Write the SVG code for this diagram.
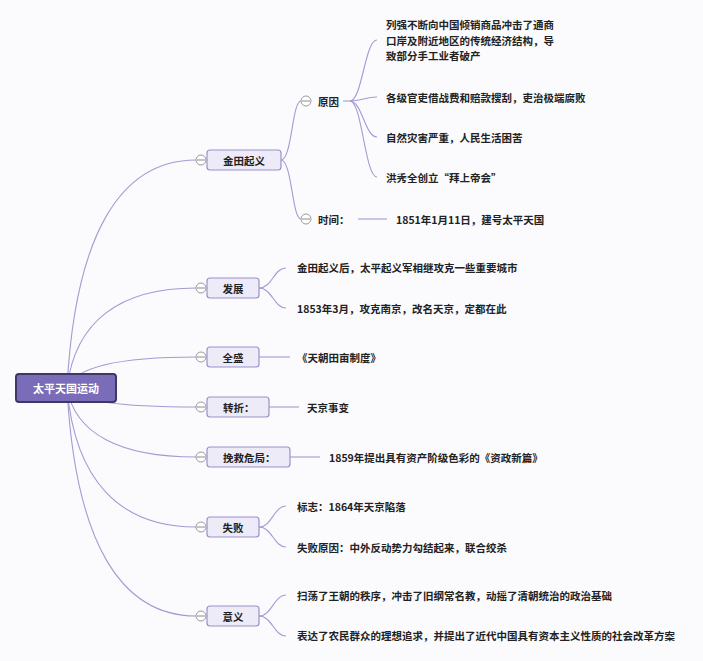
<svg xmlns="http://www.w3.org/2000/svg" width="703" height="661" viewBox="0 0 703 661">
<defs>
<style>
.bg{fill:#fbfbfd}
.ln{fill:none;stroke:#a29bd3;stroke-width:1.1}
.n1 rect{fill:#ecebf7;stroke:#9a91cc;stroke-width:1.2}
.t{font-family:"Noto Sans CJK SC","Liberation Sans",sans-serif;font-size:10.5px;fill:#222;font-weight:bold;dominant-baseline:central}
.tc{text-anchor:middle}
.cc circle{fill:#fff;stroke:#9a9a9a;stroke-width:1}
.cc line{stroke:#8a8a8a;stroke-width:1}
</style>
</defs>
<rect class="bg" x="0" y="0" width="703" height="661"/>
<g id="connectors">
<path class="ln" d="M67,388 C75,235 120,160 196,160"/>
<path class="ln" d="M67,388 C75,321 120,288 196,288"/>
<path class="ln" d="M67,388 C75,367 120,357 196,357"/>
<path class="ln" d="M67,388 C75,401 120,407 196,407"/>
<path class="ln" d="M67,388 C75,434 120,457 196,457"/>
<path class="ln" d="M67,388 C75,481 120,527 196,527"/>
<path class="ln" d="M67,388 C75,541 120,616 196,616"/>
<path class="ln" d="M281,160 C292,160 292,101 301,101"/>
<path class="ln" d="M281,160 C292,160 292,219 301,219"/>
<path class="ln" d="M343,101 L350,101"/>
<path class="ln" d="M350,101 C362,101 365,40 377,40"/>
<path class="ln" d="M350,101 C362,101 365,97 377,97"/>
<path class="ln" d="M350,101 C362,101 365,137 377,137"/>
<path class="ln" d="M350,101 C362,101 365,177 377,177"/>
<path class="ln" d="M358,219 L387,219"/>
<path class="ln" d="M259,288 C272,288 274,268 286,268"/>
<path class="ln" d="M259,288 C272,288 274,308 286,308"/>
<path class="ln" d="M259,357 L290,357"/>
<path class="ln" d="M269,407 L299,407"/>
<path class="ln" d="M290,457 L320,457"/>
<path class="ln" d="M259,527 C272,527 274,506 286,506"/>
<path class="ln" d="M259,527 C272,527 274,547 286,547"/>
<path class="ln" d="M259,616 C272,616 274,595 286,595"/>
<path class="ln" d="M259,616 C272,616 274,636 286,636"/>
</g>
<g id="root">
<rect x="16" y="374" width="100" height="28" rx="3" fill="#7a6cb8" stroke="#3f3766" stroke-width="2"/>
<text class="t tc" x="66" y="388" style="fill:#fff;font-size:11px">太平天国运动</text>
</g>
<g id="n-jintian" class="n1">
<rect x="207" y="150" width="74" height="20" rx="3"/>
<text class="t tc" x="244" y="160">金田起义</text>
</g>
<g id="n-fazhan" class="n1">
<rect x="207" y="278" width="52" height="20" rx="3"/>
<text class="t tc" x="233" y="288">发展</text>
</g>
<g id="n-quansheng" class="n1">
<rect x="207" y="347" width="52" height="20" rx="3"/>
<text class="t tc" x="233" y="357">全盛</text>
</g>
<g id="n-zhuanzhe" class="n1">
<rect x="207" y="397" width="62" height="20" rx="3"/>
<text class="t" x="223" y="407">转折：</text>
</g>
<g id="n-wanjiu" class="n1">
<rect x="207" y="447" width="83" height="20" rx="3"/>
<text class="t" x="223" y="457">挽救危局：</text>
</g>
<g id="n-shibai" class="n1">
<rect x="207" y="517" width="52" height="20" rx="3"/>
<text class="t tc" x="233" y="527">失败</text>
</g>
<g id="n-yiyi" class="n1">
<rect x="207" y="606" width="52" height="20" rx="3"/>
<text class="t tc" x="233" y="616">意义</text>
</g>
<g id="collapse" class="cc">
<circle cx="201" cy="160" r="5"/><line x1="197" y1="160" x2="205" y2="160"/>
<circle cx="201" cy="288" r="5"/><line x1="197" y1="288" x2="205" y2="288"/>
<circle cx="201" cy="357" r="5"/><line x1="197" y1="357" x2="205" y2="357"/>
<circle cx="201" cy="407" r="5"/><line x1="197" y1="407" x2="205" y2="407"/>
<circle cx="201" cy="457" r="5"/><line x1="197" y1="457" x2="205" y2="457"/>
<circle cx="201" cy="527" r="5"/><line x1="197" y1="527" x2="205" y2="527"/>
<circle cx="201" cy="616" r="5"/><line x1="197" y1="616" x2="205" y2="616"/>
<circle cx="306" cy="101" r="5"/><line x1="302" y1="101" x2="310" y2="101"/>
<circle cx="306" cy="219" r="5"/><line x1="302" y1="219" x2="310" y2="219"/>
</g>
<g id="n-yuanyin"><text class="t" x="318" y="101">原因</text></g>
<g id="n-shijian"><text class="t" x="318" y="219">时间：</text></g>
<g id="n-yy1"><text class="t" x="386" y="24">列强不断向中国倾销商品冲击了通商</text><text class="t" x="386" y="40">口岸及附近地区的传统经济结构，导</text><text class="t" x="386" y="55">致部分手工业者破产</text></g>
<g id="n-yy2"><text class="t" x="386" y="97">各级官吏借战费和赔款搜刮，吏治极端腐败</text></g>
<g id="n-yy3"><text class="t" x="386" y="137">自然灾害严重，人民生活困苦</text></g>
<g id="n-yy4"><text class="t" x="386" y="177">洪秀全创立“拜上帝会”</text></g>
<g id="n-sj1"><text class="t" x="396" y="219">1851年1月11日，建号太平天国</text></g>
<g id="n-fz1"><text class="t" x="297" y="267">金田起义后，太平起义军相继攻克一些重要城市</text></g>
<g id="n-fz2"><text class="t" x="297" y="308">1853年3月，攻克南京，改名天京，定都在此</text></g>
<g id="n-qs1"><text class="t" x="297" y="357">《天朝田亩制度》</text></g>
<g id="n-zz1"><text class="t" x="307" y="407">天京事变</text></g>
<g id="n-wj1"><text class="t" x="329" y="457">1859年提出具有资产阶级色彩的《资政新篇》</text></g>
<g id="n-sb1"><text class="t" x="297" y="506">标志：1864年天京陷落</text></g>
<g id="n-sb2"><text class="t" x="297" y="547">失败原因：中外反动势力勾结起来，联合绞杀</text></g>
<g id="n-yi1"><text class="t" x="297" y="595">扫荡了王朝的秩序，冲击了旧纲常名教，动摇了清朝统治的政治基础</text></g>
<g id="n-yi2"><text class="t" x="297" y="635">表达了农民群众的理想追求，并提出了近代中国具有资本主义性质的社会改革方案</text></g>
</svg>
